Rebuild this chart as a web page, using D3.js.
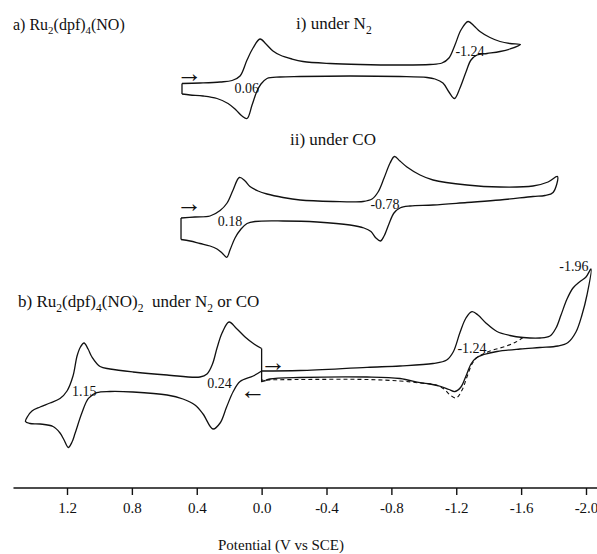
<!DOCTYPE html>
<html>
<head>
<meta charset="utf-8">
<script src="https://cdn.jsdelivr.net/npm/d3@7"></script>
<style>
  body { margin: 0; background: #fff; }
  svg { display: block; font-family: "Liberation Serif", "Times New Roman", serif; }
</style>
</head>
<body>
<div id="cv-chart"></div>
<script>
// potential axis ticks (V vs SCE)
const potentialTicks = [1.2, 0.8, 0.4, 0.0, -0.4, -0.8, -1.2, -1.6, -2.0];

// a) i) under N2 -- [E (V), current (arb. units)], one full scan starting at +0.49 V
const n2Loop = [
  [0.491, -0.35], [0.380, -0.30], [0.256, -0.20], [0.182, -0.05], [0.133, 0.40], [0.090, 2.00],
  [0.053, 3.20], [0.010, 4.10], [-0.027, 3.60], [-0.070, 2.90], [-0.113, 2.50], [-0.187, 2.10],
  [-0.255, 1.85], [-0.422, 1.65], [-0.607, 1.55], [-0.853, 1.50], [-1.038, 1.55], [-1.112, 1.70],
  [-1.155, 2.20], [-1.192, 3.50], [-1.229, 5.00], [-1.273, 5.85], [-1.310, 5.40], [-1.346, 4.85],
  [-1.408, 4.25], [-1.470, 3.85], [-1.531, 3.65], [-1.596, 3.55],
  [-1.531, 3.10], [-1.470, 2.85], [-1.390, 2.65], [-1.328, 2.50], [-1.291, 2.00], [-1.260, 0.80],
  [-1.223, -0.80], [-1.189, -1.85], [-1.155, -1.20], [-1.118, -0.30], [-1.069, 0.10], [-1.020, 0.25],
  [-0.853, 0.35], [-0.545, 0.40], [-0.237, 0.35], [-0.113, 0.30], [-0.033, 0.15], [0.004, -0.40],
  [0.031, -1.20], [0.059, -2.50], [0.090, -3.85], [0.121, -3.60], [0.158, -3.00], [0.207, -2.35],
  [0.275, -1.85], [0.361, -1.60], [0.441, -1.50], [0.491, -1.40]
];

// a) ii) under CO
const coLoop = [
  [0.497, -0.80], [0.411, -0.70], [0.318, -0.60], [0.256, -0.05], [0.213, 0.70], [0.176, 2.00],
  [0.137, 3.25], [0.102, 2.90], [0.072, 2.35], [0.022, 1.90], [-0.033, 1.60], [-0.132, 1.25],
  [-0.237, 1.00], [-0.440, 0.85], [-0.625, 0.85], [-0.681, 1.10], [-0.718, 1.80], [-0.755, 3.20],
  [-0.792, 4.70], [-0.819, 5.35], [-0.853, 4.90], [-0.896, 4.30], [-0.977, 3.50], [-1.057, 3.00],
  [-1.266, 2.50], [-1.470, 2.30], [-1.673, 2.40], [-1.766, 2.80], [-1.824, 3.35],
  [-1.797, 1.75], [-1.747, 1.45], [-1.673, 1.35], [-1.470, 1.00], [-1.266, 0.75], [-1.057, 0.50],
  [-0.915, 0.40], [-0.853, 0.20], [-0.816, -0.30], [-0.785, -1.40], [-0.755, -2.60], [-0.733, -3.10],
  [-0.705, -2.80], [-0.674, -2.15], [-0.631, -1.80], [-0.545, -1.50], [-0.342, -1.20], [-0.132, -1.10],
  [0.041, -1.15], [0.090, -1.35], [0.127, -1.90], [0.164, -2.80], [0.195, -4.00], [0.215, -4.73],
  [0.244, -4.30], [0.275, -3.90], [0.318, -3.60], [0.380, -3.35], [0.441, -3.10], [0.497, -2.95]
];

// b) Ru2(dpf)4(NO)2 -- negative scan to -2.05 V
const bRightLoop = [
  [0.000, 0.40], [-0.237, 0.45], [-0.650, 0.77], [-0.853, 0.90], [-1.057, 1.15], [-1.141, 1.50],
  [-1.182, 2.33], [-1.223, 4.25], [-1.260, 5.70], [-1.297, 6.33], [-1.334, 6.00], [-1.383, 5.20],
  [-1.451, 4.35], [-1.531, 3.95], [-1.612, 3.75], [-1.716, 3.70], [-1.778, 3.90], [-1.815, 4.70],
  [-1.846, 6.00], [-1.883, 7.60], [-1.920, 8.70], [-1.963, 9.35], [-2.000, 9.80], [-2.031, 10.60],
  [-2.006, 8.00], [-1.975, 6.00], [-1.938, 4.30], [-1.889, 3.25], [-1.827, 2.90], [-1.716, 2.75],
  [-1.593, 2.60], [-1.451, 2.35], [-1.371, 2.05], [-1.322, 1.70], [-1.291, 1.10], [-1.260, -0.10],
  [-1.229, -1.20], [-1.192, -1.65], [-1.155, -1.45], [-1.106, -1.15], [-1.038, -0.90], [-0.977, -0.77],
  [-0.853, -0.35], [-0.650, -0.20], [-0.237, -0.25], [-0.052, -0.40], [-0.025, -0.55]
];
// current step at the 0 V start
const bStep = [[0.000, -0.65], [0.000, 2.65]];
// b) positive scan to +1.46 V
const bLeftLoop = [
  [0.000, 2.65], [0.051, 3.15], [0.102, 3.80], [0.155, 4.65], [0.201, 5.30], [0.244, 4.20],
  [0.275, 2.70], [0.303, 1.10], [0.337, 0.10], [0.380, -0.20], [0.583, 0.00], [0.793, 0.30],
  [0.935, 0.60], [0.996, 0.85], [1.046, 1.80], [1.070, 2.60], [1.095, 3.20], [1.117, 2.80],
  [1.138, 1.90], [1.163, -0.10], [1.200, -1.60], [1.243, -2.35], [1.305, -2.80], [1.366, -3.20],
  [1.416, -3.60], [1.443, -4.15], [1.456, -4.65],
  [1.428, -4.85], [1.366, -4.90], [1.286, -5.15], [1.243, -5.80], [1.218, -6.50], [1.192, -7.25],
  [1.169, -6.70], [1.150, -5.83], [1.109, -3.83], [1.068, -2.33], [1.017, -1.77], [0.935, -1.65],
  [0.793, -1.70], [0.583, -2.00], [0.485, -2.40], [0.411, -3.00], [0.361, -3.90], [0.300, -5.40],
  [0.256, -4.80], [0.216, -3.20], [0.175, -1.65], [0.133, -0.65], [0.052, -0.10], [0.000, 0.40]
];
// b) dashed: return sweep when switched at -1.6 V
const bDashed = [
  [-1.612, 3.75], [-1.568, 3.30], [-1.501, 2.85], [-1.427, 2.50], [-1.371, 2.15], [-1.328, 1.75],
  [-1.297, 1.10], [-1.266, -0.20], [-1.236, -1.50], [-1.199, -2.30], [-1.162, -2.00], [-1.125, -1.40],
  [-1.075, -1.00], [-0.977, -0.80], [-0.853, -0.60], [-0.650, -0.45], [-0.237, -0.45], [0.000, -0.50]
];

// peak labels and sweep arrows, at [E, current]
const n2Labels = [["0.06", 0.092, -0.83], ["-1.24", -1.285, 2.85]];
const coLabels = [["0.18", 0.195, -1.12], ["-0.78", -0.761, 0.62]];
const bLabels = [["1.15", 1.094, -1.58], ["0.24", 0.260, -0.80], ["-1.24", -1.297, 2.70], ["-1.96", -1.925, 10.90]];
const n2Arrows = [["\u2192", 0.444, 0.75]];
const coArrows = [["\u2192", 0.446, 0.67]];
const bArrows = [["\u2192", -0.072, 1.33], ["\u2190", 0.053, -1.50]];

const width = 597, height = 554;

const svg = d3.select("#cv-chart")
  .append("svg")
  .attr("width", width)
  .attr("height", height);

// shared potential scale (reversed: positive on the left)
const x = d3.scaleLinear().domain([1.2, -2.0]).range([67, 586]);

// one current scale per trace, stacked vertically
const yN2 = d3.scaleLinear().domain([-5, 5]).range([130, 30]);
const yCO = d3.scaleLinear().domain([-5, 5]).range([260, 160]);
const yB = d3.scaleLinear().domain([-8, 11]).range([455, 265]);

const smooth = (y) => d3.line()
  .x(d => x(d[0]))
  .y(d => y(d[1]))
  .curve(d3.curveCatmullRom.alpha(0.5));
const straight = (y) => d3.line()
  .x(d => x(d[0]))
  .y(d => y(d[1]));

const curves = svg.append("g")
  .attr("fill", "none")
  .attr("stroke", "#111")
  .attr("stroke-width", 1.3)
  .attr("stroke-linejoin", "round");

// a) i) and ii): closed loop plus the vertical step at the start potential
[[n2Loop, yN2], [coLoop, yCO]].forEach(([loop, y]) => {
  curves.append("path").attr("d", smooth(y)(loop));
  curves.append("path").attr("d", straight(y)([loop[loop.length - 1], loop[0]]));
});

// b)
curves.append("path").attr("d", smooth(yB)(bRightLoop));
curves.append("path").attr("d", straight(yB)([bRightLoop[bRightLoop.length - 1], ...bStep]));
curves.append("path").attr("d", smooth(yB)(bLeftLoop));
curves.append("path")
  .attr("d", smooth(yB)(bDashed))
  .attr("stroke-width", 1.1)
  .attr("stroke-dasharray", "4,3");

// labels inside the plot
const addNotes = (notes, y, size) => {
  svg.append("g")
    .selectAll("text")
    .data(notes)
    .join("text")
    .attr("x", d => x(d[1]))
    .attr("y", d => y(d[2]))
    .attr("dy", "0.35em")
    .attr("text-anchor", "middle")
    .attr("font-size", size)
    .attr("fill", "#111")
    .text(d => d[0]);
};
addNotes(n2Labels, yN2, 14);
addNotes(coLabels, yCO, 14);
addNotes(bLabels, yB, 14);
addNotes(n2Arrows, yN2, 26);
addNotes(coArrows, yCO, 26);
addNotes(bArrows, yB, 26);

// titles with subscripts ("_" marks a subscript part)
const addTitle = (tx, ty, parts, size) => {
  const t = svg.append("text")
    .attr("x", tx)
    .attr("y", ty)
    .attr("font-size", size)
    .attr("fill", "#111")
    .style("white-space", "pre");
  let shift = 0;
  parts.forEach(p => {
    const sub = p.startsWith("_");
    const target = sub ? Math.round(size * 0.28) : 0;
    t.append("tspan")
      .attr("dy", target - shift)
      .attr("font-size", sub ? size * 0.68 : size)
      .text(sub ? p.slice(1) : p);
    shift = target;
  });
};
addTitle(13, 30, ["a) Ru", "_2", "(dpf)", "_4", "(NO)"], 16);
addTitle(296, 29, ["i) under N", "_2"], 17);
addTitle(290, 145, ["ii) under CO"], 17);
addTitle(18, 307, ["b) Ru", "_2", "(dpf)", "_4", "(NO)", "_2", "  under N", "_2", " or CO"], 17);

// potential axis
const axis = svg.append("g")
  .attr("transform", "translate(0,488)")
  .call(d3.axisBottom(x)
    .tickValues(potentialTicks)
    .tickFormat(d => d.toFixed(1))
    .tickSize(7)
    .tickPadding(7));
axis.select(".domain").remove();
axis.selectAll(".tick line").attr("stroke", "#111").attr("stroke-width", 1.4);
axis.selectAll(".tick text")
  .attr("font-family", "Liberation Serif, Times New Roman, serif")
  .attr("font-size", 15)
  .attr("fill", "#111");
axis.append("line")
  .attr("x1", x(1.53))
  .attr("x2", x(-2.07))
  .attr("stroke", "#111")
  .attr("stroke-width", 1.6);

svg.append("text")
  .attr("x", 281)
  .attr("y", 550)
  .attr("text-anchor", "middle")
  .attr("font-size", 15)
  .attr("fill", "#111")
  .text("Potential (V vs SCE)");
</script>
</body>
</html>
